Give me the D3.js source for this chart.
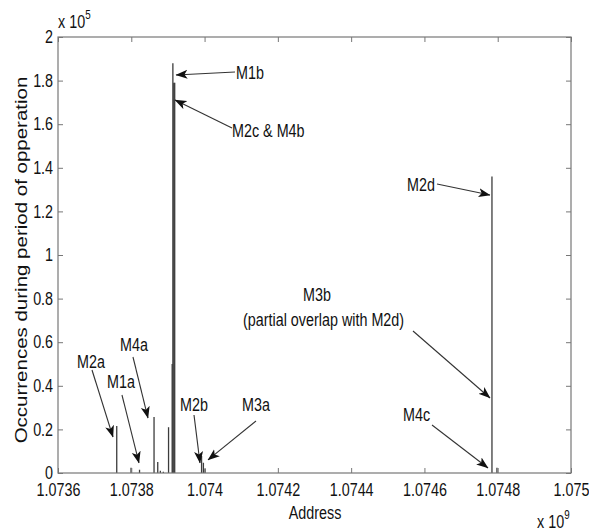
<!DOCTYPE html>
<html>
<head>
<meta charset="utf-8">
<script src="https://cdn.jsdelivr.net/npm/d3@7"></script>
<style>
  body { margin: 0; background: #fff; }
  text { font-family: "Liberation Sans", Arial, sans-serif; fill: #111; }
</style>
</head>
<body>
<svg class="chart" width="589" height="532"></svg>
<script>
// spike data (address, occurrences)
var addresses = [1073760300, 1073799300, 1073822500, 1073862100, 1073872200, 1073879300,
                 1073887500, 1073901700, 1073911600, 1073913500, 1073916000, 1073918500,
                 1073991800, 1073996800, 1074001400, 1074784300, 1074797900];
var counts = [21600, 2400, 1500, 25700, 5000, 1000,
              600, 21000, 50000, 188000, 179000, 179000,
              7800, 4700, 2000, 136000, 2400];

var xTickValues = [1073600000, 1073800000, 1074000000, 1074200000, 1074400000, 1074600000, 1074800000, 1075000000];
var xTickLabels = ["1.0736", "1.0738", "1.074", "1.0742", "1.0744", "1.0746", "1.0748", "1.075"];
var yTickValues = [0, 20000, 40000, 60000, 80000, 100000, 120000, 140000, 160000, 180000, 200000];
var yTickLabels = ["0", "0.2", "0.4", "0.6", "0.8", "1", "1.2", "1.4", "1.6", "1.8", "2"];

// annotations: label, arrow tip in data units
var annLabels = ["M1b", "M2c & M4b", "M2d", "M3b", "M4c", "M2a", "M1a", "M4a", "M2b", "M3a"];
var annTipAddr = [1073922000, 1073919300, 1074779000, 1074779000, 1074773500,
                  1073750100, 1073821000, 1073845600, 1073987500, 1074009400];
var annTipVal = [182600, 171100, 127500, 34400, 2300, 16500, 4600, 25200, 4600, 6000];

// label layout (pixels): text x, baseline y, arrow tail
var annLayout = [
  { tx: 236, ty: 79, ax: 235, ay: 72 },
  { tx: 232, ty: 137, ax: 232, ay: 128 },
  { tx: 407, ty: 191, ax: 437, ay: 184 },
  { tx: 303, ty: 301, ax: 413, ay: 331 },
  { tx: 403, ty: 421, ax: 432, ay: 425 },
  { tx: 77, ty: 368, ax: 92, ay: 370 },
  { tx: 107, ty: 388, ax: 122, ay: 395 },
  { tx: 120, ty: 351, ax: 133, ay: 357 },
  { tx: 180, ty: 411, ax: 194, ay: 415 },
  { tx: 242, ty: 411, ax: 256, ay: 421 }
];

var sx = 0.82; // horizontal squeeze of the original figure
var fs = 17.5;

var svg = d3.select(".chart"),
    margin = { top: 37, right: 18, bottom: 59, left: 58 },
    width = +svg.attr("width") - margin.left - margin.right,
    height = +svg.attr("height") - margin.top - margin.bottom;

var x = d3.scaleLinear().domain([1073600000, 1075000000]).range([0, width]),
    y = d3.scaleLinear().domain([0, 200000]).range([height, 0]);

var g = svg.append("g")
    .attr("transform", "translate(" + margin.left + "," + margin.top + ")");

svg.append("defs").append("marker")
    .attr("id", "arrow")
    .attr("viewBox", "0 -5 12 10")
    .attr("refX", 11.5)
    .attr("refY", 0)
    .attr("markerUnits", "userSpaceOnUse")
    .attr("markerWidth", 12)
    .attr("markerHeight", 10)
    .attr("orient", "auto")
    .append("path")
    .attr("d", "M12,0 L0,-4.5 L3,0 L0,4.5 Z")
    .attr("fill", "#111");

// spikes
g.selectAll(".spike")
    .data(addresses)
    .enter().append("line")
    .attr("class", "spike")
    .attr("x1", function(d) { return x(d); })
    .attr("x2", function(d) { return x(d); })
    .attr("y1", y(0))
    .attr("y2", function(d, i) { return y(counts[i]); })
    .attr("stroke", "#3c3c3c")
    .attr("stroke-width", 1.3);

// axes (MATLAB style box, ticks inward)
function styleAxis(sel) {
    sel.select(".domain").remove();
    sel.selectAll(".tick line").attr("stroke", "#777");
    sel.selectAll(".tick text")
        .attr("font-size", fs)
        .attr("fill", "#111")
        .style("font-family", "'Liberation Sans', Arial, sans-serif");
}

g.append("g")
    .attr("transform", "translate(0," + height + ")")
    .call(d3.axisBottom(x).tickValues(xTickValues)
        .tickFormat(function(d, i) { return xTickLabels[i]; })
        .tickSizeInner(-5).tickSizeOuter(0).tickPadding(11))
    .call(styleAxis)
    .selectAll(".tick text").attr("transform", "scale(" + sx + ",1)");

g.append("g")
    .call(d3.axisTop(x).tickValues(xTickValues).tickFormat("")
        .tickSizeInner(-5).tickSizeOuter(0))
    .call(styleAxis);

g.append("g")
    .call(d3.axisLeft(y).tickValues(yTickValues)
        .tickFormat(function(d, i) { return yTickLabels[i]; })
        .tickSizeInner(-5).tickSizeOuter(0).tickPadding(6))
    .call(styleAxis)
    .selectAll(".tick text").attr("transform", "scale(" + sx + ",1)");

g.append("g")
    .attr("transform", "translate(" + width + ",0)")
    .call(d3.axisRight(y).tickValues(yTickValues).tickFormat("")
        .tickSizeInner(-5).tickSizeOuter(0))
    .call(styleAxis);

g.append("rect")
    .attr("width", width)
    .attr("height", height)
    .attr("fill", "none")
    .attr("stroke", "#777")
    .attr("stroke-width", 1.2);

// annotations
var ann = svg.append("g").attr("class", "annotations");

annLabels.forEach(function(label, i) {
    var L = annLayout[i];
    ann.append("line")
        .attr("x1", L.ax).attr("y1", L.ay)
        .attr("x2", margin.left + x(annTipAddr[i]))
        .attr("y2", margin.top + y(annTipVal[i]))
        .attr("stroke", "#333")
        .attr("stroke-width", 1.1)
        .attr("marker-end", "url(#arrow)");
    ann.append("text")
        .attr("transform", "translate(" + L.tx + "," + L.ty + ") scale(" + sx + ",1)")
        .attr("font-size", fs)
        .text(label);
});

ann.append("text")
    .attr("transform", "translate(243,326) scale(" + sx + ",1)")
    .attr("font-size", fs)
    .text("(partial overlap with M2d)");

// axis labels and exponents
svg.append("text")
    .attr("transform", "translate(315,519) scale(" + sx + ",1)")
    .attr("text-anchor", "middle")
    .attr("font-size", fs)
    .text("Address");

svg.append("text")
    .attr("transform", "translate(27,260) scale(" + sx + ",1) rotate(-90)")
    .attr("text-anchor", "middle")
    .attr("font-size", 20.5)
    .text("Occurrences during period of opperation");

function exponent(xp, yp, base, power) {
    var t = svg.append("text")
        .attr("transform", "translate(" + xp + "," + yp + ") scale(" + sx + ",1)")
        .attr("font-size", fs);
    t.append("tspan").text(base);
    t.append("tspan").attr("dy", -9).attr("font-size", 12).text(power);
}
exponent(58, 28, "x 10", "5");
exponent(537, 528, "x 10", "9");
</script>
</body>
</html>
